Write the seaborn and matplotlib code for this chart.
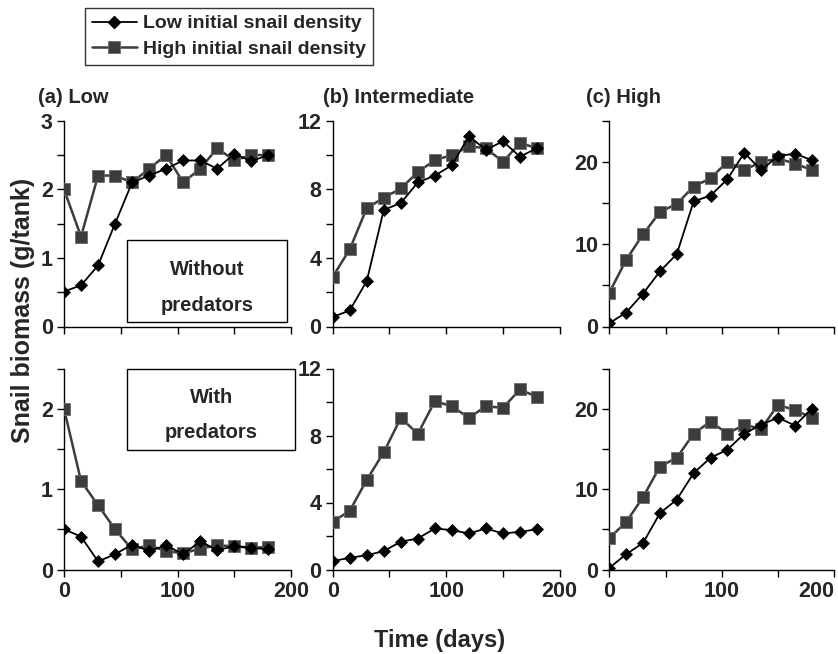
import numpy as np
import pandas as pd
import matplotlib
matplotlib.use("Agg")
import matplotlib.pyplot as plt
from matplotlib.patches import Rectangle
from matplotlib.lines import Line2D
from matplotlib.ticker import FixedLocator, FuncFormatter
import seaborn as sns

sns.set_theme(style="ticks")
plt.rcParams['font.family'] = ['Liberation Sans', 'DejaVu Sans']
plt.rcParams['font.weight'] = 'bold'

days = [0, 15, 30, 45, 60, 75, 90, 105, 120, 135, 150, 165, 180]

# (a) Low resource, without predators
a_top_low = [0.51, 0.60, 0.89, 1.50, 2.10, 2.20, 2.30, 2.42, 2.42, 2.30, 2.52, 2.41, 2.50]
a_top_high = [2.00, 1.31, 2.20, 2.20, 2.10, 2.30, 2.50, 2.10, 2.30, 2.60, 2.42, 2.50, 2.50]
# (a) with predators
a_bot_low = [0.50, 0.41, 0.10, 0.19, 0.31, 0.23, 0.30, 0.19, 0.35, 0.24, 0.29, 0.27, 0.25]
a_bot_high = [2.00, 1.10, 0.80, 0.50, 0.25, 0.30, 0.23, 0.20, 0.26, 0.30, 0.29, 0.27, 0.28]
# (b) Intermediate
b_top_low = [0.55, 0.94, 2.65, 6.8, 7.2, 8.4, 8.8, 9.4, 11.1, 10.3, 10.8, 9.9, 10.4]
b_top_high = [2.9, 4.5, 6.9, 7.5, 8.05, 9.0, 9.7, 10.0, 10.5, 10.4, 9.6, 10.7, 10.4]
b_bot_low = [0.5, 0.7, 0.85, 1.1, 1.66, 1.85, 2.45, 2.35, 2.15, 2.45, 2.15, 2.25, 2.4]
b_bot_high = [2.85, 3.5, 5.35, 7.0, 9.05, 8.1, 10.05, 9.75, 9.05, 9.75, 9.65, 10.75, 10.3]
# (c) High
c_top_low = [0.4, 1.7, 4.0, 6.7, 8.8, 15.2, 15.9, 17.9, 21.1, 19.0, 20.7, 21.0, 20.2]
c_top_high = [4.1, 8.1, 11.2, 13.9, 14.9, 17.0, 18.0, 20.0, 19.0, 20.0, 20.4, 19.8, 19.0]
c_bot_low = [0.2, 1.9, 3.3, 7.0, 8.7, 12.0, 13.9, 14.9, 16.9, 18.0, 18.9, 17.9, 20.0]
c_bot_high = [3.9, 5.9, 9.0, 12.8, 13.9, 16.9, 18.4, 16.9, 18.0, 17.5, 20.5, 19.8, 18.9]

series_labels = ["Low initial snail density", "High initial snail density"]
panel_titles = ["(a) Low", "(b) Intermediate", "(c) High"]

LOW_COLOR = "#000000"
HIGH_COLOR = "#3c3c3c"

fig = plt.figure(figsize=(8.38, 6.54), dpi=100)
W, H = 838.0, 654.0

col_x = [(64, 227), (332.7, 227), (609.3, 225)]
row_y = [(120.7, 326.5), (368.5, 569.5)]

panels = [
    [(a_top_low, a_top_high), (b_top_low, b_top_high), (c_top_low, c_top_high)],
    [(a_bot_low, a_bot_high), (b_bot_low, b_bot_high), (c_bot_low, c_bot_high)],
]
ylims = [[3, 12, 25], [2.5, 12, 25]]
ysteps = [[0.5, 2, 5], [0.5, 2, 5]]
ylabel_steps = [[1, 4, 10], [1, 4, 10]]

axes = {}
for r in range(2):
    for c in range(3):
        x0, w = col_x[c]
        ytop, ybot = row_y[r]
        ax = fig.add_axes([x0 / W, 1 - ybot / H, w / W, (ybot - ytop) / H])
        axes[(r, c)] = ax
        low, high = panels[r][c]
        df_low = pd.DataFrame({"day": days, "biomass": low})
        df_high = pd.DataFrame({"day": days, "biomass": high})
        sns.lineplot(data=df_high, x="day", y="biomass", ax=ax, color=HIGH_COLOR,
                     marker="s", markersize=8, markeredgecolor="#6a6a6a",
                     markeredgewidth=0.6, linewidth=1.8, zorder=3)
        sns.lineplot(data=df_low, x="day", y="biomass", ax=ax, color=LOW_COLOR,
                     marker="D", markersize=5.8, markeredgecolor="black",
                     markeredgewidth=0.5, linewidth=1.3, zorder=4)
        ax.set_xlim(0, 200)
        ax.set_ylim(0, ylims[r][c])
        ax.set_xlabel("")
        ax.set_ylabel("")
        for s in ["top", "right"]:
            ax.spines[s].set_visible(False)
        for s in ["left", "bottom"]:
            ax.spines[s].set_color("black")
            ax.spines[s].set_linewidth(1.0)
        ax.xaxis.set_major_locator(FixedLocator([0, 50, 100, 150, 200]))
        ax.xaxis.set_major_formatter(FuncFormatter(lambda v, p: f"{int(v)}" if int(v) % 100 == 0 else ""))
        step = ysteps[r][c]
        lab = ylabel_steps[r][c]
        yt = np.arange(0, ylims[r][c] + 1e-9, step)
        ax.yaxis.set_major_locator(FixedLocator(yt))
        ax.yaxis.set_major_formatter(FuncFormatter(
            lambda v, p, lab=lab: (f"{int(round(v))}" if abs(v / lab - round(v / lab)) < 1e-6 else "")))
        ax.tick_params(axis="both", direction="out", length=5, width=1, color="black",
                       labelsize=15.5, pad=3)
        for t in ax.get_xticklabels() + ax.get_yticklabels():
            t.set_fontweight("bold")
        if r == 0:
            ax.tick_params(axis="x", labelbottom=False)
        ax.set_facecolor("white")

# keep the last x label of the right-hand bottom panel inside the figure
fig.canvas.draw()
axes[(1, 2)].xaxis.get_major_ticks()[-1].label1.set_horizontalalignment("right")

# panel titles
title_pos = [38, 323, 586]
for c, t in enumerate(panel_titles):
    fig.text(title_pos[c] / W, 1 - 103 / H, t, fontsize=14.5, fontweight="bold", va="baseline", ha="left")

# annotation boxes
ax = axes[(0, 0)]
ax.add_patch(Rectangle((0.2775, 0.023), 0.705, 0.398, transform=ax.transAxes,
                       fill=False, edgecolor="black", linewidth=1.0, clip_on=False, zorder=5))
ax.text(0.63, 0.275, "Without", transform=ax.transAxes, ha="center", va="center",
        fontsize=14.5, fontweight="bold")
ax.text(0.63, 0.10, "predators", transform=ax.transAxes, ha="center", va="center",
        fontsize=14.5, fontweight="bold")

ax = axes[(1, 0)]
ax.add_patch(Rectangle((0.2775, 0.594), 0.74, 0.406, transform=ax.transAxes,
                       fill=False, edgecolor="black", linewidth=1.0, clip_on=False, zorder=5))
ax.text(0.65, 0.855, "With", transform=ax.transAxes, ha="center", va="center",
        fontsize=14.5, fontweight="bold")
ax.text(0.65, 0.68, "predators", transform=ax.transAxes, ha="center", va="center",
        fontsize=14.5, fontweight="bold")

# legend
handles = [
    Line2D([], [], color=LOW_COLOR, marker="D", markersize=5.8, linewidth=1.3),
    Line2D([], [], color=HIGH_COLOR, marker="s", markersize=8, markeredgecolor="#6a6a6a",
           markeredgewidth=0.6, linewidth=1.8),
]
leg = fig.legend(handles, series_labels, loc="upper left",
                 bbox_to_anchor=(85 / W, 1 - 8 / H), frameon=True, fancybox=False,
                 prop={"weight": "bold", "size": 14}, handlelength=2.3, handletextpad=0.35,
                 borderpad=0.35, labelspacing=0.4, borderaxespad=0)
leg.get_frame().set_edgecolor("black")
leg.get_frame().set_linewidth(1.0)

fig.text(23 / W, 1 - 310 / H, "Snail biomass (g/tank)", rotation=90, fontsize=18,
         fontweight="bold", ha="center", va="center")
fig.text(440 / W, 1 - 641 / H, "Time (days)", fontsize=17, fontweight="bold",
         ha="center", va="center")

fig.savefig("out.png", dpi=100, facecolor="white")
